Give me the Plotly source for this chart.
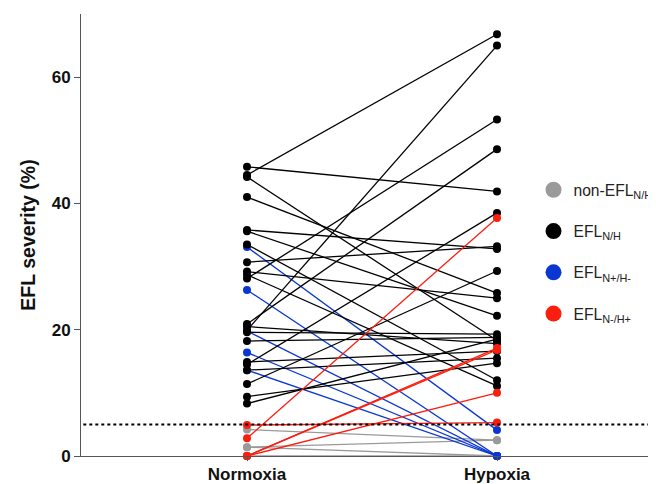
import plotly.graph_objects as go

# Paired values (Normoxia -> Hypoxia), EFL severity (%)
gray_norm = [4.2, 1.4, 1.4, 0.0]
gray_hyp = [2.5, 2.5, 0.0, 0.0]

blue_norm = [33.1, 26.3, 19.8, 16.4, 13.6]
blue_hyp = [4.1, 0.0, 0.0, 0.0, 0.0]

black_norm = [45.8, 44.5, 44.2, 41.0, 35.8, 35.6, 33.5, 30.7, 29.2, 28.7, 28.1,
              20.9, 20.5, 19.9, 19.6, 18.2, 14.9, 14.5, 13.6, 11.4, 9.4, 8.3]
black_hyp = [41.9, 66.8, 18.3, 25.8, 32.8, 22.2, 12.0, 33.2, 25.0, 11.1, 53.3,
             48.6, 17.8, 65.0, 19.3, 18.8, 16.6, 38.5, 15.5, 29.3, 14.7, 18.5]

red_norm = [4.9, 2.8, 0.0, 0.0, 0.0]
red_hyp = [5.3, 37.7, 17.1, 16.8, 10.0]

conditions = ["Normoxia", "Hypoxia"]
y_ticks = [0, 20, 40, 60]
threshold = 5

groups = [
    ("non-EFL<sub>N/H</sub>", gray_norm, gray_hyp, "#9a9a9a"),
    ("EFL<sub>N+/H-</sub>", blue_norm, blue_hyp, "#0a37d2"),
    ("EFL<sub>N/H</sub>", black_norm, black_hyp, "#000000"),
    ("EFL<sub>N-/H+</sub>", red_norm, red_hyp, "#fa1e0e"),
]

fig = go.Figure()
for name, n, h, col in groups:
    xs, ys = [], []
    for a, b in zip(n, h):
        xs += [0, 1, None]
        ys += [a, b, None]
    fig.add_trace(go.Scatter(
        x=xs, y=ys, mode="lines+markers", showlegend=False,
        line=dict(color=col, width=1.3),
        marker=dict(color=col, size=8),
        cliponaxis=False, hoverinfo="skip"))

legend_order = [groups[0], groups[2], groups[1], groups[3]]
for i, (name, n, h, col) in enumerate(legend_order):
    fig.add_trace(go.Scatter(
        x=[None], y=[None], mode="markers", name=name,
        marker=dict(color=col, size=18), legendgroup=str(i)))

fig.add_shape(type="line", xref="paper", x0=0.004, x1=1, yref="y", y0=threshold, y1=threshold,
              line=dict(color="black", width=2, dash="dot"))

# page body has an 8px default margin: figure is sized/offset so the plot lands where the reference has it
fig.update_layout(
    width=648, height=476,
    margin=dict(l=73, r=0, t=6, b=28, autoexpand=False),
    plot_bgcolor="white", paper_bgcolor="white",
    font=dict(family="Liberation Sans, Arial, sans-serif", color="#111"),
    legend=dict(x=0.787, y=0.64, xanchor="left", yanchor="top",
                font=dict(size=15.6, color="#222"), tracegroupgap=18,
                bgcolor="rgba(0,0,0,0)", itemsizing="trace", itemwidth=30),
)
fig.update_xaxes(
    range=[-0.664, 1.636], tickvals=[0, 1], ticktext=conditions,
    showline=True, linecolor="#555", linewidth=1, ticks="outside", ticklen=4,
    tickcolor="#555", showgrid=False, zeroline=False, ticklabelstandoff=-1,
    tickfont=dict(size=17, weight="bold", color="#111"))
fig.update_yaxes(
    range=[0, 70], tickvals=y_ticks, showline=True, linecolor="#555", linewidth=1,
    ticks="outside", ticklen=6, tickcolor="#555", showgrid=False, zeroline=False,
    tickfont=dict(size=17, weight="bold", color="#111"),
    title=dict(text="EFL severity (%)", font=dict(size=19.5, weight="bold", color="#111"), standoff=10))

fig.write_html("out.html")
